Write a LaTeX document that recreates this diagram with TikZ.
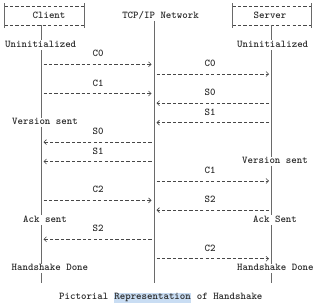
\documentclass[tikz,border=0pt]{standalone}
\usepackage{fontspec}
\usetikzlibrary{arrows.meta}
\definecolor{txtc}{HTML}{2B2B2B}
\definecolor{linec}{HTML}{6A6A6A}
\definecolor{dashc}{HTML}{474747}
\definecolor{hilite}{HTML}{C9DDF3}
\begin{document}
\begin{tikzpicture}[x=1pt,y=-1pt,
  txt/.style={font=\ttfamily\bfseries\fontsize{10.4}{11}\selectfont, text=txtc, inner xsep=0pt, inner ysep=0.8pt, text height=6.2pt, text depth=1.6pt},
  state/.style={txt, fill=white},
  life/.style={draw=linec, line width=0.55pt},
  msg/.style={draw=dashc, line width=0.55pt, dash pattern=on 3.3pt off 2.16pt, -{Straight Barb[length=2.6pt,width=5pt,line width=0.6pt]}},
  boxh/.style={draw=dashc, line width=0.55pt, dash pattern=on 3.3pt off 2.16pt},
  boxv/.style={draw=linec, line width=0.55pt}]
\useasboundingbox[fill=white] (0,0) rectangle (320,305);

% boxes
\coordinate (ctl) at (4.5,6);   \coordinate (ctr) at (84.5,6);
\coordinate (cbl) at (4.5,25.44); \coordinate (cbr) at (84.5,25.44);
\coordinate (stl) at (232.5,6); \coordinate (str) at (311,6);
\coordinate (sbl) at (232.5,25.44); \coordinate (sbr) at (311,25.44);
\draw[boxh] (ctl) -- (ctr); \draw[boxh] (cbl) -- (cbr);
\draw[boxh] (stl) -- (str); \draw[boxh] (sbl) -- (sbr);
\draw[boxv] ([yshift=2.5pt]ctl) -- ([yshift=-2.5pt]cbl);
\draw[boxv] ([yshift=2.5pt]ctr) -- ([yshift=-2.5pt]cbr);
\draw[boxv] ([yshift=2.5pt]stl) -- ([yshift=-2.5pt]sbl);
\draw[boxv] ([yshift=2.5pt]str) -- ([yshift=-2.5pt]sbr);

% lifelines
\coordinate (cl0) at (41,25.44);  \coordinate (cl1) at (41,283);
\coordinate (nw0) at (154,21);    \coordinate (nw1) at (154,283);
\coordinate (sv0) at (271.5,25.44); \coordinate (sv1) at (271.5,283);
\draw[life] (cl0) -- (cl1);
\draw[life] (nw0) -- (nw1);
\draw[life] (sv0) -- (sv1);

% header texts
\node[txt] (client) at (49,15.72) {Client};
\node[txt] (net) at (160.5,15.72) {TCP/IP Network};
\node[txt] (server) at (270,15.72) {Server};

% states
\node[state,anchor=west] (cu) at (5,44.88) {Uninitialized};
\node[state,anchor=west] (su) at (237,44.88) {Uninitialized};
\node[state,anchor=west] (cv) at (12,122.64) {Version sent};
\node[state,anchor=west] (sv) at (242,161.52) {Version sent};
\node[state,anchor=west] (ca) at (23,219.84) {Ack sent};
\node[state,anchor=west] (sa) at (253,219.84) {Ack Sent};
\node[state,anchor=west] (cd) at (11.5,268.44) {Handshake Done};
\node[state,anchor=west] (sd) at (237,268.44) {Handshake Done};

% arrow end points
\foreach \r/\yy in {6/64.32, 9/93.48, 14/142.08, 16/161.52, 20/200.4, 24/239.28}{
  \coordinate (ca\r) at (43.5,\yy); \coordinate (na\r) at (151.5,\yy);}
\foreach \r/\yy in {7/74.04, 10/103.2, 12/122.64, 18/180.96, 21/210.12, 26/258.72}{
  \coordinate (nb\r) at (156.5,\yy); \coordinate (sb\r) at (269,\yy);}

% client <-> network
\draw[msg] (ca6) -- (na6);
\draw[msg] (ca9) -- (na9);
\draw[msg] (na14) -- (ca14);
\draw[msg] (na16) -- (ca16);
\draw[msg] (ca20) -- (na20);
\draw[msg] (na24) -- (ca24);
% network <-> server
\draw[msg] (nb7) -- (sb7);
\draw[msg] (sb10) -- (nb10);
\draw[msg] (sb12) -- (nb12);
\draw[msg] (nb18) -- (sb18);
\draw[msg] (sb21) -- (nb21);
\draw[msg] (nb26) -- (sb26);

% message labels
\foreach \n/\lbl/\yy in {l5/C0/54.6, l8/C1/83.76, l13/S0/132.36, l15/S1/151.8, l19/C2/190.68, l23/S2/229.56}
  \node[txt] (\n) at (98,\yy) {\lbl};
\foreach \n/\lbl/\yy in {r6/C0/64.32, r9/S0/93.48, r11/S1/112.92, r17/C1/171.24, r20/S2/200.4, r25/C2/249.0}
  \node[txt] (\n) at (210,\yy) {\lbl};

% caption
\node[txt,anchor=west] (cap) at (59,297.6) {Pictorial {\setlength{\fboxsep}{0.6pt}\colorbox{hilite}{Representation\vphantom{Rp}}} of Handshake};
\end{tikzpicture}
\end{document}
